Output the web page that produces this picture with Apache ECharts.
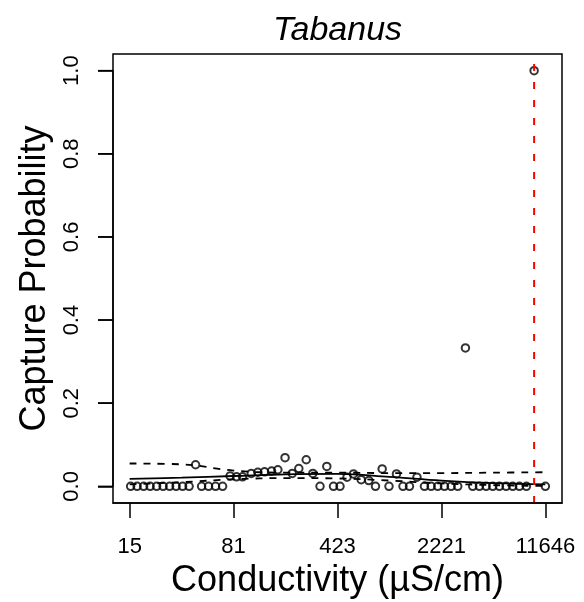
<!DOCTYPE html>
<html>
<head>
<meta charset="utf-8">
<script src="https://cdn.jsdelivr.net/npm/echarts@6/dist/echarts.min.js"></script>
<style>
html,body{margin:0;padding:0;background:#fff;}
#chart{width:584px;height:602px;}
</style>
</head>
<body>
<div id="chart"></div>
<script>
// ---- data ----
const titleText = 'Tabanus';
const xAxisTitle = 'Conductivity (µS/cm)';
const yAxisTitle = 'Capture Probability';
const xRange = [15.4, 11646];                       // conductivity range spanned by the ticks
const xTickLabels = ['15', '81', '423', '2221', '11646'];
const yTicks = [0, 0.2, 0.4, 0.6, 0.8, 1.0];
const yTickLabels = ['0.0', '0.2', '0.4', '0.6', '0.8', '1.0'];

// observed sites: conductivity (µS/cm) and capture probability
const conductivity = [
  15.65, 17.35, 19.25, 21.35, 23.68, 26.26, 29.13, 32.31, 35.83, 39.74,
  44.08, 48.5, 54.2, 60.6, 67.8,
  76.4, 84.7, 93.2, 107.1, 118.9, 132.3, 148.0, 163.6, 183.5, 205.8,
  228.6, 257.2, 285.8, 320.5, 357.1, 397.3, 440.8, 492.8, 546.4, 617.9,
  697.5, 775.9, 863.3, 962.3, 1084.5, 1202.8, 1334, 1503,
  1694, 1885, 2094, 2330, 2593, 2880, 3256,
  3657, 4070, 4529, 5031, 5597, 6229, 6919, 7698, 8607, 9733, 11646
];
const captureProb = [
  0, 0, 0, 0, 0, 0, 0, 0, 0, 0,
  0.052, 0, 0, 0, 0,
  0.025, 0.023, 0.023, 0.031, 0.034, 0.035, 0.037, 0.040, 0.069, 0.031,
  0.043, 0.064, 0.031, 0, 0.048, 0, 0, 0.022, 0.030, 0.016,
  0.014, 0, 0.042, 0, 0.030, 0, 0, 0.022,
  0, 0, 0, 0, 0, 0, 0.333,
  0, 0, 0, 0, 0, 0, 0, 0, 0, 1.0, 0
];

// fitted curve with confidence band
const fitConductivity = [15.4, 35.3, 80.7, 184.9, 423, 969, 2221, 5087, 11646];
const fitMean  = [0.018, 0.021, 0.025, 0.029, 0.030, 0.023, 0.014, 0.008, 0.005];
const fitUpper = [0.055, 0.053, 0.038, 0.033, 0.033, 0.032, 0.032, 0.033, 0.034];
const fitLower = [0.005, 0.010, 0.017, 0.020, 0.019, 0.014, 0.007, 0.003, 0.001];

// threshold (vertical red dashed line)
const thresholdConductivity = 9733;

// ---- build ----
const L = Math.log;
const lnMin = L(xRange[0]), lnMax = L(xRange[1]);
const lnSpan = lnMax - lnMin;
const xTickPos = xTickLabels.map((_, i) => lnMin + i * lnSpan / (xTickLabels.length - 1));
function xLabelFor(v) {
  let best = 0, bd = Infinity;
  xTickPos.forEach((p, i) => { const d = Math.abs(p - v); if (d < bd) { bd = d; best = i; } });
  return xTickLabels[best];
}
function yLabelFor(v) {
  let best = 0, bd = Infinity;
  yTicks.forEach((p, i) => { const d = Math.abs(p - v); if (d < bd) { bd = d; best = i; } });
  return yTickLabels[best];
}
const FONT = 'Liberation Sans, Arial, Helvetica, sans-serif';
const pts = conductivity.map((c, i) => [L(c), captureProb[i]]);
const toLine = arr => fitConductivity.map((c, i) => [L(c), arr[i]]);

// plot frame (R style: data range padded by 4% on each side)
const BOX = {x: 113, y: 54, w: 449, h: 449};
const padY = BOX.h * 0.04 / 1.08;
const TICK_LEN = 15;

const frameGraphics = [
  {
    id: 'frame', type: 'rect', shape: {x: BOX.x, y: BOX.y, width: BOX.w, height: BOX.h},
    style: {fill: 'none', stroke: '#000', lineWidth: 1.5}, z: 10, silent: true
  },
  {
    id: 'title', type: 'text', x: 337.5, y: 31,
    style: {text: titleText, fill: '#000', font: 'italic 34px ' + FONT,
            textAlign: 'center', textVerticalAlign: 'middle'}
  }
];

const chart = echarts.init(document.getElementById('chart'), null, {renderer: 'canvas'});
chart.setOption({
  animation: false,
  backgroundColor: '#fff',
  textStyle: {fontFamily: FONT},
  grid: {
    left: BOX.x, top: BOX.y + padY, width: BOX.w, height: BOX.h - 2 * padY,
    containLabel: false, outerBoundsMode: 'none', show: false
  },
  graphic: frameGraphics,
  xAxis: {
    type: 'value', position: 'bottom', offset: padY,
    min: lnMin - 0.04 * lnSpan, max: lnMax + 0.04 * lnSpan,
    splitLine: {show: false},
    axisLine: {show: true, onZero: false, lineStyle: {color: '#000', width: 1.5}},
    axisTick: {show: true, inside: false, customValues: xTickPos, length: TICK_LEN, lineStyle: {color: '#000', width: 1.5}},
    axisLabel: {show: true, customValues: xTickPos, formatter: v => xLabelFor(v),
                margin: 33, fontSize: 22, color: '#000', fontFamily: FONT},
    name: xAxisTitle, nameLocation: 'middle', nameGap: 59,
    nameTextStyle: {fontSize: 36, color: '#000', fontFamily: FONT}
  },
  yAxis: {
    type: 'value', position: 'left',
    min: 0, max: 1, interval: 0.2,
    splitLine: {show: false},
    axisLine: {show: true, onZero: false, lineStyle: {color: '#000', width: 1.5}},
    axisTick: {show: true, inside: false, length: TICK_LEN, lineStyle: {color: '#000', width: 1.5}},
    axisLabel: {show: true, formatter: v => yLabelFor(v), rotate: 90,
                margin: 30, fontSize: 22, color: '#000', fontFamily: FONT},
    name: yAxisTitle, nameLocation: 'middle', nameGap: 58,
    nameTextStyle: {fontSize: 36, color: '#000', fontFamily: FONT}
  },
  series: [
    {
      type: 'scatter', data: pts, symbol: 'circle', symbolSize: 7.5, clip: false,
      itemStyle: {color: 'rgba(0,0,0,0)', borderColor: '#000', borderWidth: 2},
      z: 2
    },
    {
      type: 'line', data: toLine(fitMean), smooth: 0.4, showSymbol: false, clip: false,
      lineStyle: {color: '#000', width: 1.8, type: 'solid'}, z: 3
    },
    {
      type: 'line', data: toLine(fitUpper), smooth: 0.4, showSymbol: false, clip: false,
      lineStyle: {color: '#000', width: 1.8, type: [7, 7]}, z: 3
    },
    {
      type: 'line', data: toLine(fitLower), smooth: 0.4, showSymbol: false, clip: false,
      lineStyle: {color: '#000', width: 1.8, type: [7, 7]}, z: 3
    },
    {
      type: 'line', data: [[L(thresholdConductivity), -0.04], [L(thresholdConductivity), 1.04]],
      showSymbol: false, clip: false,
      lineStyle: {color: '#ff0000', width: 2, type: [7, 11]}, z: 4
    }
  ]
});

// y-axis tick marks placed through the axis scale (the y axis does not draw its own here)
const yTickMarks = yTicks.map((v, i) => {
  const py = chart.convertToPixel({yAxisIndex: 0}, v);
  return {
    id: 'ytick' + i, type: 'line',
    shape: {x1: BOX.x - TICK_LEN, y1: py, x2: BOX.x, y2: py},
    style: {stroke: '#000', lineWidth: 1.5}, z: 10, silent: true
  };
});
chart.setOption({graphic: frameGraphics.concat(yTickMarks)});
</script>
</body>
</html>
